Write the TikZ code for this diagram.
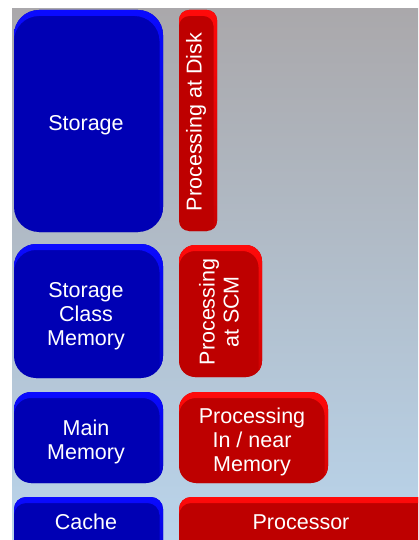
\documentclass[tikz,border=0pt]{standalone}
\usepackage{fontspec}
\setmainfont{Liberation Sans}
\definecolor{bgtop}{RGB}{170,168,171}
\definecolor{bgmid}{RGB}{177,189,202}
\definecolor{bgbot}{RGB}{185,212,235}
\definecolor{bluerim}{RGB}{10,10,255}
\definecolor{blueface}{RGB}{0,0,180}
\definecolor{redrim}{RGB}{255,10,10}
\definecolor{redface}{RGB}{190,0,0}
\tikzset{
  lbl/.style={text=white, font=\fontsize{21.5}{24}\selectfont, align=center, inner sep=0pt},
}
% bevelled slab: x0 y0 x1 y1 radius rim-colour face-colour
% the bright rim runs along the top and fades down the right-hand side
\newcommand\slab[7]{%
  \fill[#7, rounded corners=#5pt] (#1,#2) rectangle (#3,#4);
  \begin{scope}
    \clip[rounded corners=#5pt] (#1,#2) rectangle (#3,#4);
    \shade[top color=#6, bottom color=#7, even odd rule] (#1-20,#2) rectangle (#3+20,#4)
      [rounded corners=#5pt] (#1,#2+6) rectangle (#3-3.5,#4+40);
  \end{scope}
}
\begin{document}
\begin{tikzpicture}[x=1pt,y=-1pt]
  \useasboundingbox (0,0) rectangle (418,540);
  \clip (0,0) rectangle (418,540);
  \fill[white] (0,0) rectangle (418,540);
  \shade[top color=bgtop, middle color=bgmid, bottom color=bgbot] (12,9) rectangle (418,540);

  % memory hierarchy (left column)
  \slab{14}{10}{163}{232}{25}{bluerim}{blueface}
  \slab{14}{244}{163}{378}{22}{bluerim}{blueface}
  \slab{14}{392}{163}{483}{17}{bluerim}{blueface}
  \slab{14}{497}{163}{560}{12}{bluerim}{blueface}

  % where processing happens (right column)
  \slab{179}{10}{217}{231}{10}{redrim}{redface}
  \slab{179}{245}{262}{377}{16}{redrim}{redface}
  \slab{179}{392}{328}{483}{17}{redrim}{redface}
  \slab{179}{497}{440}{560}{12}{redrim}{redface}

  \node[lbl] (storage) at (86,125) {Storage};
  \node[lbl] (scm) at (86,316) {Storage\\Class\\Memory};
  \node[lbl] (mainmem) at (86,442) {Main\\Memory};
  \node[lbl] (cache) at (86,522) {Cache};

  \node[lbl, rotate=90] (pdisk) at (196,122) {Processing at Disk};
  \node[lbl, rotate=90] (pscm) at (219,312) {Processing\\at SCM};
  \node[lbl] (pmem) at (252,441.5) {Processing\\In / near\\Memory};
  \node[lbl] (proc) at (301,522) {Processor};
\end{tikzpicture}
\end{document}
